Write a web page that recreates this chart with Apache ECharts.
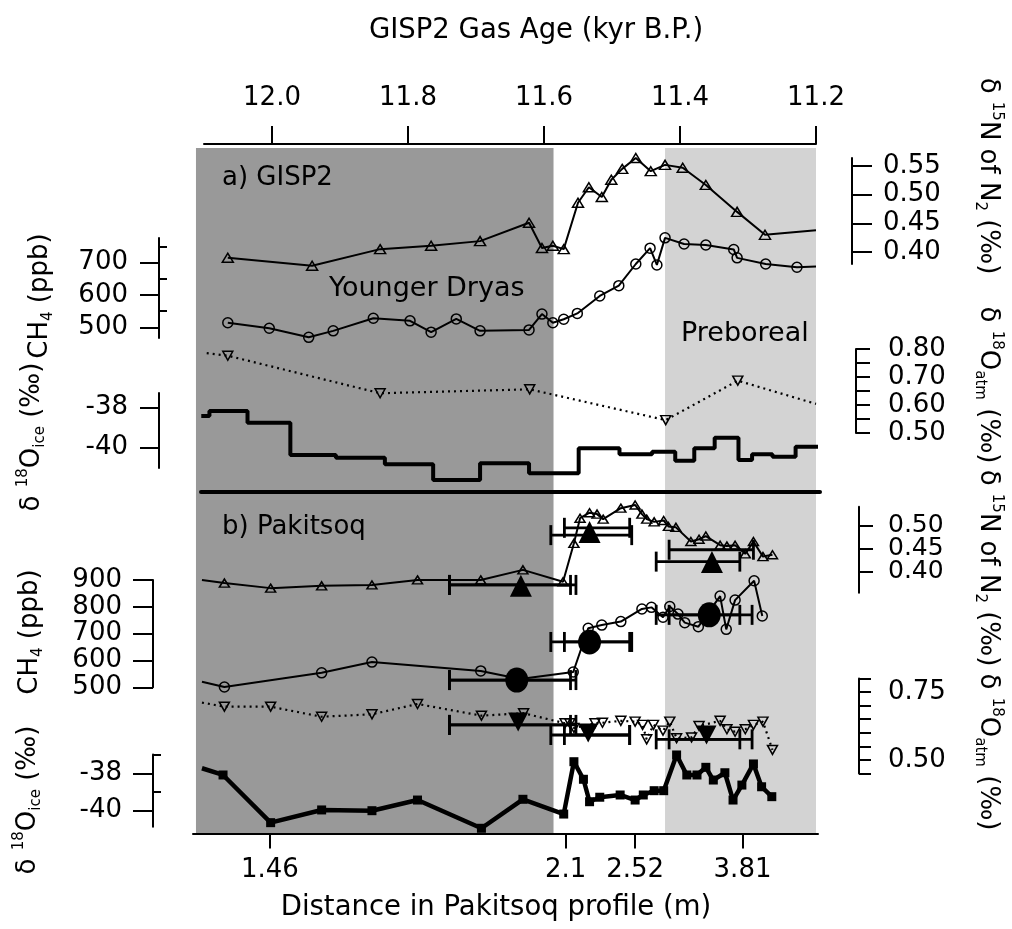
<!DOCTYPE html>
<html><head><meta charset="utf-8">
<script src="https://cdn.jsdelivr.net/npm/echarts@6/dist/echarts.min.js"></script>
<style>html,body{margin:0;padding:0;background:#fff}#c{width:1012px;height:929px}</style>
</head><body><div id="c"></div>
<script>
// ================= DATA =================
// GISP2 gas age axis (kyr B.P.)
const ageTicks = [12.0, 11.8, 11.6, 11.4, 11.2];
// Pakitsoq distance ticks: position on the gas-age scale and label
const pakTickAges = [12.003, 11.568, 11.466, 11.308];
const pakTickLabels = ['1.46', '2.1', '2.52', '3.81'];
// climate intervals (age bounds)
const ydStart = 12.1118, ydEnd = 11.586;   // Younger Dryas
const pbStart = 11.422, pbEnd = 11.2;      // Preboreal

// ---- a) GISP2 ----
const gN15Age = [12.065, 11.941, 11.841, 11.766, 11.694, 11.622, 11.603, 11.587, 11.571, 11.550, 11.534, 11.515, 11.501, 11.485, 11.465, 11.443, 11.422, 11.396, 11.362, 11.316, 11.275, 11.200];
const gN15Val = [0.390, 0.376, 0.405, 0.411, 0.419, 0.451, 0.407, 0.411, 0.405, 0.486, 0.513, 0.496, 0.526, 0.545, 0.564, 0.541, 0.552, 0.547, 0.517, 0.470, 0.430, 0.438];
const gN15NoMark = [21];

const gCH4Age = [12.065, 12.004, 11.946, 11.910, 11.851, 11.797, 11.766, 11.729, 11.694, 11.622, 11.603, 11.587, 11.571, 11.551, 11.518, 11.490, 11.465, 11.444, 11.434, 11.422, 11.394, 11.362, 11.321, 11.316, 11.274, 11.228, 11.200];
const gCH4Val = [514, 497, 469, 489, 528, 520, 485, 526, 489, 492, 541, 514, 525, 543, 597, 629, 696, 745, 693, 777, 758, 755, 741, 715, 696, 686, 688];
const gCH4NoMark = [26];

const gO18Age = [12.096, 12.065, 11.841, 11.621, 11.421, 11.315, 11.200];
const gO18Val = [0.785, 0.776, 0.642, 0.656, 0.546, 0.687, 0.604];
const gO18NoMark = [0, 6];

// ice d18O (bag samples, step line; each value starts at its age)
const gIceAge = [12.104, 12.092, 12.036, 11.973, 11.906, 11.834, 11.763, 11.694, 11.622, 11.549, 11.489, 11.441, 11.407, 11.379, 11.349, 11.314, 11.294, 11.264, 11.230, 11.197];
const gIceVal = [-38.43, -38.19, -38.77, -40.39, -40.52, -40.85, -41.64, -40.80, -41.30, -40.05, -40.35, -40.22, -40.67, -40.05, -39.52, -40.64, -40.35, -40.47, -39.97, -39.97];

// ---- b) Pakitsoq ----
const pN15Age = [12.103, 12.070, 12.002, 11.927, 11.853, 11.786, 11.693, 11.631, 11.572, 11.556, 11.547, 11.533, 11.522, 11.513, 11.487, 11.466, 11.456, 11.449, 11.438, 11.424, 11.417, 11.406, 11.384, 11.372, 11.362, 11.341, 11.331, 11.319, 11.304, 11.292, 11.278, 11.264];
const pN15Val = [0.382, 0.375, 0.364, 0.369, 0.371, 0.382, 0.382, 0.404, 0.378, 0.462, 0.517, 0.529, 0.526, 0.515, 0.539, 0.546, 0.526, 0.515, 0.509, 0.512, 0.499, 0.497, 0.466, 0.471, 0.478, 0.458, 0.456, 0.458, 0.439, 0.466, 0.433, 0.437];
const pN15NoMark = [0];

const pCH4Age = [12.103, 12.070, 11.927, 11.853, 11.693, 11.635, 11.557, 11.535, 11.515, 11.487, 11.456, 11.442, 11.425, 11.415, 11.403, 11.393, 11.373, 11.341, 11.332, 11.319, 11.291, 11.279];
const pCH4Val = [521, 501, 554, 594, 561, 531, 557, 720, 732, 745, 792, 798, 761, 801, 773, 741, 726, 840, 716, 825, 897, 766];
const pCH4NoMark = [0];

const pO18Age = [12.103, 12.070, 12.002, 11.927, 11.853, 11.786, 11.692, 11.630, 11.569, 11.562, 11.556, 11.525, 11.514, 11.487, 11.466, 11.455, 11.449, 11.439, 11.425, 11.415, 11.405, 11.383, 11.372, 11.341, 11.331, 11.319, 11.304, 11.292, 11.278, 11.264];
const pO18Val = [0.711, 0.696, 0.696, 0.659, 0.668, 0.706, 0.663, 0.672, 0.635, 0.635, 0.618, 0.635, 0.637, 0.644, 0.641, 0.629, 0.576, 0.629, 0.608, 0.641, 0.580, 0.583, 0.625, 0.644, 0.613, 0.604, 0.613, 0.629, 0.641, 0.537];
const pO18NoMark = [0];

const pIceAge = [12.103, 12.072, 12.002, 11.927, 11.853, 11.786, 11.692, 11.631, 11.571, 11.556, 11.542, 11.533, 11.518, 11.488, 11.466, 11.454, 11.438, 11.424, 11.405, 11.390, 11.375, 11.362, 11.351, 11.334, 11.322, 11.309, 11.292, 11.280, 11.265];
const pIceVal = [-37.73, -38.09, -40.64, -39.96, -40.00, -39.43, -40.94, -39.39, -40.18, -37.38, -38.32, -39.52, -39.28, -39.16, -39.43, -39.16, -38.93, -38.93, -37.02, -38.09, -38.09, -37.68, -38.36, -37.97, -39.43, -38.63, -37.50, -38.72, -39.25];
const pIceNoMark = [0];

// matched tie points (big filled markers)
const tieN15Age = [11.634, 11.533, 11.353];
const tieN15Val = [0.369, 0.487, 0.421];
const tieCH4Age = [11.640, 11.533, 11.357];
const tieCH4Val = [527, 669, 770];
const tieO18Age = [11.638, 11.535, 11.361];
const tieO18Val = [0.640, 0.599, 0.592];
// error bars: [older age, younger age, value]
const errN15 = [[11.739, 11.553, 0.371], [11.739, 11.561, 0.371], [11.590, 11.471, 0.480], [11.570, 11.474, 0.496], [11.435, 11.312, 0.422], [11.416, 11.292, 0.448]];
const errCH4 = [[11.739, 11.553, 527], [11.739, 11.561, 527], [11.590, 11.471, 669], [11.570, 11.474, 669], [11.435, 11.294, 770], [11.416, 11.312, 770]];
const errO18 = [[11.739, 11.553, 0.629], [11.739, 11.561, 0.629], [11.590, 11.474, 0.592], [11.570, 11.474, 0.592], [11.435, 11.294, 0.576], [11.416, 11.312, 0.576]];

// axis tick values
const n15aTicks = [0.40, 0.45, 0.50, 0.55];
const ch4aTicks = [500, 600, 700], ch4aMinor = [550, 650, 750];
const o18aTicks = [0.50, 0.55, 0.60, 0.65, 0.70, 0.75, 0.80], o18aLabels = [0.50, 0.60, 0.70, 0.80];
const iceaTicks = [-38, -40];
const n15bTicksOuter = [0.40, 0.50], n15bTicksMid = [0.45];
const ch4bTicks = [500, 600, 700, 800, 900];
const o18bTicks = [0.45, 0.50, 0.55, 0.60, 0.65, 0.70, 0.75, 0.80], o18bLabels = [0.50, 0.75];
const icebTicks = [-38, -40], icebMinor = [-37, -39];

// ================= CHART =================
const FONT = 'DejaVu Sans';
const AMIN = 11.2, AMAX = 12.11176;
const gridRects = [
  {left:196, right:196, top:148, height:685},   // 0 background
  {left:204, right:196, top:144, height:10},    // 1 top age axis
  {left:201, right:192, top:480, height:12},    // 2 panel divider
  {left:193, right:194, top:820, height:13.5},  // 3 bottom distance axis
  {left:196, right:196, top:158, height:106},   // 4 d15N a
  {left:196, right:196, top:238, height:100},   // 5 CH4 a
  {left:196, right:196, top:349, height:84},    // 6 d18Oatm a
  {left:196, right:196, top:393, height:75},    // 7 ice a
  {left:196, right:196, top:506.7, height:86},  // 8 d15N b
  {left:196, right:196, top:580, height:107.3}, // 9 CH4 b
  {left:196, right:196, top:678.4, height:95.2},// 10 d18Oatm b
  {left:196, right:196, top:754.6, height:72.1},// 11 ice b
  {left:196, right:196, top:238, height:100},   // 12 CH4 a minor ticks
  {left:196, right:196, top:754.6, height:72.1},// 13 ice b minor ticks
  {left:196, right:196, top:506.7, height:86}   // 14 d15N b middle tick
];
const grid = gridRects.map(g => Object.assign({outerBoundsMode:'none', containLabel:false}, g));

const lab = {color:'#000', fontFamily:FONT, fontSize:26, hideOverlap:false, showMinLabel:true, showMaxLabel:true};
const xAxis = grid.map((g, i) => ({type:'value', gridIndex:i, min:AMIN, max:AMAX, inverse:true, show:false}));
xAxis[1] = {type:'value', gridIndex:1, min:11.2, max:12.1, inverse:true, position:'top',
  axisLine:{show:true, onZero:false, lineStyle:{color:'#000', width:2}},
  axisTick:{show:true, length:18, lineStyle:{color:'#000', width:2}, customValues:ageTicks},
  axisLabel:Object.assign({margin:33, customValues:ageTicks, formatter:v => v.toFixed(1)}, lab),
  splitLine:{show:false}};
xAxis[2] = {type:'value', gridIndex:2, min:0, max:1, position:'bottom', z:10,
  axisLine:{show:true, onZero:false, lineStyle:{color:'#000', width:4}},
  axisTick:{show:false}, axisLabel:{show:false}, splitLine:{show:false}};
xAxis[3] = {type:'value', gridIndex:3, min:11.197, max:12.1162, inverse:true, position:'bottom', z:10,
  axisLine:{show:true, onZero:false, lineStyle:{color:'#000', width:2}},
  axisTick:{show:true, length:15, lineStyle:{color:'#000', width:2}, customValues:pakTickAges},
  axisLabel:Object.assign({margin:24, customValues:pakTickAges, formatter:v => {
    let k = 0; pakTickAges.forEach((a, i) => { if (Math.abs(a - v) < Math.abs(pakTickAges[k] - v)) k = i; });
    return pakTickLabels[k]; }}, lab),
  splitLine:{show:false}};

const yAxis = [];
function addY(o){ yAxis.push(o); return yAxis.length - 1; }
function hidY(gi){ return addY({type:'value', gridIndex:gi, min:0, max:1, show:false}); }
function axY(gi, min, max, pos, offset, ticks, labels, tickLen, margin, fmt, fs, noLine){
  return addY({type:'value', gridIndex:gi, min, max, position:pos, offset,
    axisLine:{show:!noLine, onZero:false, lineStyle:{color:'#000', width:2}},
    axisTick:{show:true, inside:false, length:tickLen, lineStyle:{color:'#000', width:2}, customValues:ticks},
    axisLabel:Object.assign({show:true, margin, customValues:labels, formatter:fmt}, lab, fs ? {fontSize:fs} : {}),
    splitLine:{show:false}});
}
function minorY(gi, min, max, pos, offset, ticks, len){
  return addY({type:'value', gridIndex:gi, min, max, position:pos, offset,
    axisLine:{show:false}, axisLabel:{show:false}, splitLine:{show:false},
    axisTick:{show:true, inside:true, length:len, lineStyle:{color:'#000', width:2}, customValues:ticks}});
}
const f2 = v => v.toFixed(2), f0 = v => String(Math.round(v));
const yBg = hidY(0); hidY(1); hidY(2); hidY(3);
const yN15a = axY(4, 0.3791, 0.5640, 'right', 36, n15aTicks, n15aTicks, 20, 31, f2);
const yCH4a = axY(5, 466.9, 776.5, 'left', 37, ch4aTicks, ch4aTicks, 19, 31, f0);
const yO18a = axY(6, 0.50, 0.80, 'right', 40, o18aTicks, o18aLabels, 14, 32, f2);
const yIcea = axY(7, -41.035, -37.285, 'left', 37, iceaTicks, iceaTicks, 19, 31, f0);
const yN15b = axY(8, 0.3540, 0.5422, 'right', 43, n15bTicksOuter, n15bTicksOuter, 14, 29, f2, 25);
const yCH4b = axY(9, 500, 900, 'left', 43, ch4bTicks, ch4bTicks, 20, 31, f0);
const yO18b = axY(10, 0.45, 0.80, 'right', 43, o18bTicks, o18bLabels, 12, 29, f2);
const yIceb = axY(11, -40.856, -37, 'left', 43, icebTicks, icebTicks, 20, 31, f0);
minorY(12, 466.9, 776.5, 'left', 37, ch4aMinor, 8);
minorY(13, -40.856, -37, 'left', 43, icebMinor, 8);
axY(14, 0.3540, 0.5422, 'right', 43, n15bTicksMid, n15bTicksMid, 14, 29, f2, 25, true);

function pts(ages, vals, noMark){
  return ages.map((a, i) => noMark && noMark.indexOf(i) >= 0 ? {value:[a, vals[i]], symbol:'none'} : [a, vals[i]]);
}
const hollow = {color:'rgba(0,0,0,0)', borderColor:'#000', borderWidth:1.5};
function line(gi, yi, data, o){
  return Object.assign({type:'line', xAxisIndex:gi, yAxisIndex:yi, data, clip:false, z:3, silent:true,
    lineStyle:{color:'#000', width:2}, itemStyle:hollow}, o);
}
const CAP = 10;
function errBars(gi, yi, bars){
  return {type:'custom', xAxisIndex:gi, yAxisIndex:yi, z:4, clip:false, silent:true, data:bars,
    renderItem:(params, api) => {
      const v = api.value(2);
      const a = api.coord([api.value(0), v]), b = api.coord([api.value(1), v]);
      const st = {stroke:'#000', lineWidth:2.8};
      return {type:'group', children:[
        {type:'line', shape:{x1:a[0], y1:a[1], x2:b[0], y2:b[1]}, style:st},
        {type:'line', shape:{x1:a[0], y1:a[1]-CAP, x2:a[0], y2:a[1]+CAP}, style:st},
        {type:'line', shape:{x1:b[0], y1:b[1]-CAP, x2:b[0], y2:b[1]+CAP}, style:st}]};
    }};
}
function big(gi, yi, ages, vals, symbol, size, rot){
  return {type:'scatter', xAxisIndex:gi, yAxisIndex:yi, data:ages.map((a, i) => [a, vals[i]]),
    symbol, symbolSize:size, symbolRotate:rot || 0, itemStyle:{color:'#000', opacity:1}, z:5, clip:false, silent:true};
}
const shadeColors = ['#999999', '#d3d3d3'];
const series = [
  {type:'custom', xAxisIndex:0, yAxisIndex:yBg, z:0, silent:true, clip:false,
   data:[[ydStart, ydEnd, 0], [pbStart, pbEnd, 1]],
   renderItem:(params, api) => {
     const p0 = api.coord([api.value(0), 1]), p1 = api.coord([api.value(1), 0]);
     return {type:'rect', shape:{x:Math.min(p0[0], p1[0]), y:p0[1], width:Math.abs(p1[0]-p0[0]), height:p1[1]-p0[1]},
       style:{fill:shadeColors[api.value(2)]}};
   }},
  line(4, yN15a, pts(gN15Age, gN15Val, gN15NoMark), {symbol:'triangle', symbolSize:[11, 9]}),
  line(5, yCH4a, pts(gCH4Age, gCH4Val, gCH4NoMark), {symbol:'circle', symbolSize:10}),
  line(6, yO18a, pts(gO18Age, gO18Val, gO18NoMark), {symbol:'triangle', symbolRotate:180, symbolSize:[10, 9], lineStyle:{color:'#000', width:2.2, type:[2, 4]}}),
  line(7, yIcea, pts(gIceAge, gIceVal), {symbol:'none', step:'end', lineStyle:{color:'#000', width:4}}),
  line(8, yN15b, pts(pN15Age, pN15Val, pN15NoMark), {symbol:'triangle', symbolSize:[10, 8]}),
  line(9, yCH4b, pts(pCH4Age, pCH4Val, pCH4NoMark), {symbol:'circle', symbolSize:10}),
  line(10, yO18b, pts(pO18Age, pO18Val, pO18NoMark), {symbol:'triangle', symbolRotate:180, symbolSize:[10, 9], lineStyle:{color:'#000', width:2.2, type:[2, 4]}}),
  line(11, yIceb, pts(pIceAge, pIceVal, pIceNoMark), {symbol:'rect', symbolSize:9, itemStyle:{color:'#000'}, lineStyle:{color:'#000', width:4.5}}),
  errBars(8, yN15b, errN15), errBars(9, yCH4b, errCH4), errBars(10, yO18b, errO18),
  big(8, yN15b, tieN15Age, tieN15Val, 'triangle', [22, 22]),
  big(9, yCH4b, tieCH4Age, tieCH4Val, 'circle', [23, 25]),
  big(10, yO18b, tieO18Age, tieO18Val, 'triangle', [20, 19], 180)
];

const T = 26;
const rich = {
  m:{fontSize:T, fontFamily:FONT, fill:'#000', color:'#000', lineHeight:32},
  s:{fontSize:15, fontFamily:FONT, fill:'#000', color:'#000', lineHeight:18, verticalAlign:'top'},
  b:{fontSize:15, fontFamily:FONT, fill:'#000', color:'#000', lineHeight:18, verticalAlign:'bottom'}
};
const txtN15 = '{m|δ }{s|15}{m|N of N}{b|2}{m| (‰)}';
const txtO18atm = '{m|δ }{s|18}{m|O}{b|atm}{m| (‰)}';
const txtCH4 = '{m|CH}{b|4}{m| (ppb)}';
const txtIce = '{m|δ }{s|18}{m|O}{b|ice}{m| (‰)}';
function txt(x, y, text, align, rot, isRich, fs){
  const st = {text, fontSize:fs || T, fontFamily:FONT, fill:'#000', align, verticalAlign:'middle', textAlign:align, textVerticalAlign:'middle'};
  if (isRich) st.rich = rich;
  return {type:'text', x, y, rotation:rot || 0, style:st, silent:true, z:20};
}
const graphic = [
  txt(536, 31, 'GISP2 Gas Age (kyr B.P.)', 'center', 0, false, 27.5),
  txt(496, 908, 'Distance in Pakitsoq profile (m)', 'center', 0, false, 27.5),
  txt(222, 178, 'a) GISP2', 'left'),
  txt(329, 289, 'Younger Dryas', 'left', 0, false, 27),
  txt(681, 334, 'Preboreal', 'left', 0, false, 27),
  txt(222, 527, 'b) Pakitsoq', 'left'),
  txt(988, 176, txtN15, 'center', -Math.PI/2, true),
  txt(988, 385, txtO18atm, 'center', -Math.PI/2, true),
  txt(988, 568, txtN15, 'center', -Math.PI/2, true),
  txt(988, 752, txtO18atm, 'center', -Math.PI/2, true),
  txt(40, 296, txtCH4, 'center', Math.PI/2, true),
  txt(32, 437, txtIce, 'center', Math.PI/2, true),
  txt(30, 632, txtCH4, 'center', Math.PI/2, true),
  txt(28, 800, txtIce, 'center', Math.PI/2, true)
];

const chart = echarts.init(document.getElementById('c'), null, {renderer:'canvas'});
chart.setOption({animation:false, backgroundColor:'#fff', grid, xAxis, yAxis, series, graphic});
</script>
</body></html>
